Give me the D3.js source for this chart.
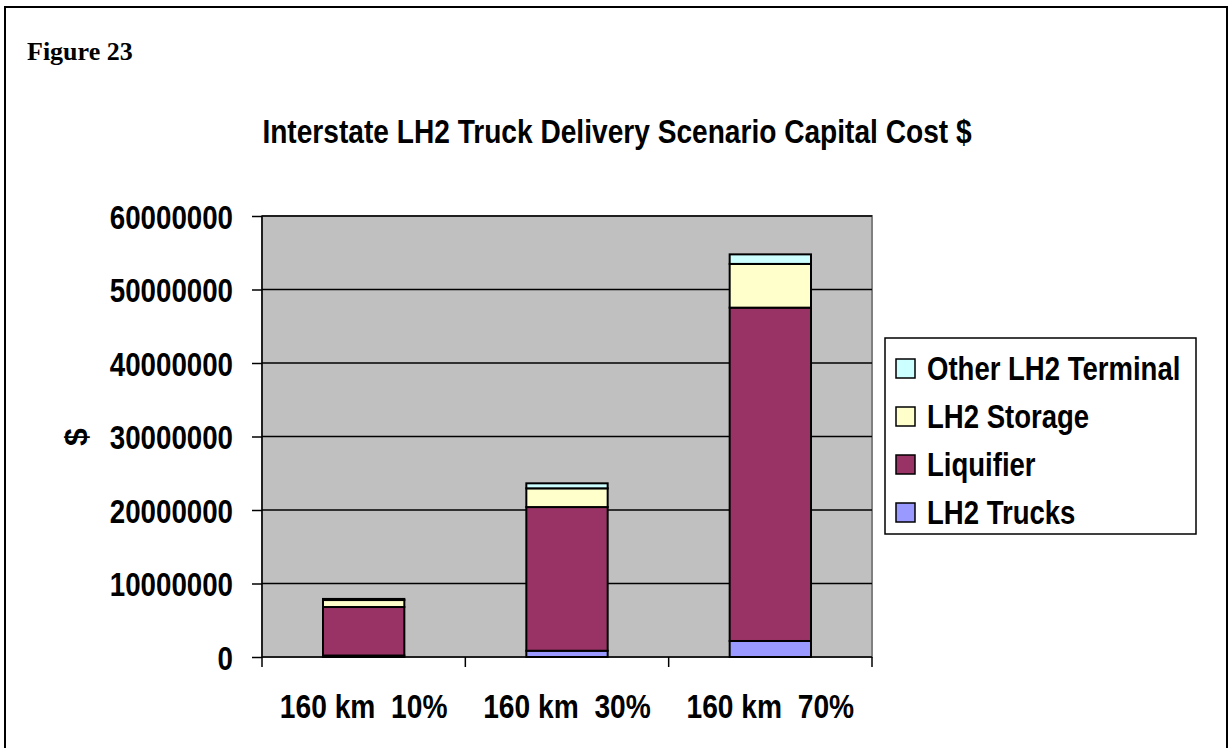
<!DOCTYPE html>
<html>
<head>
<meta charset="utf-8">
<script src="https://cdn.jsdelivr.net/npm/d3@7"></script>
<style>
  body { margin: 0; background: #fff; }
  text { font-family: "Liberation Sans", Arial, sans-serif; font-weight: bold; }
</style>
</head>
<body>
<div id="chart"></div>
<script>
const categories = ["160 km  10%", "160 km  30%", "160 km  70%"];
const seriesNames = ["LH2 Trucks", "Liquifier", "LH2 Storage", "Other LH2 Terminal"];
const lh2Trucks = [200000, 850000, 2180000];
const liquifier = [6600000, 19550000, 45350000];
const lh2Storage = [950000, 2550000, 5950000];
const otherTerminal = [150000, 680000, 1300000];
const yTicks = [0, 10000000, 20000000, 30000000, 40000000, 50000000, 60000000];
const colors = ["#9999FF", "#993366", "#FFFFCC", "#CCFFFF"];

const W = 1230, H = 748;
const margin = {top: 216, right: 358, bottom: 91, left: 262};
const width = W - margin.left - margin.right;
const height = H - margin.top - margin.bottom;

// squeeze text horizontally like the Excel rendering
function narrow(sel, k) {
  sel.each(function () {
    const t = d3.select(this);
    const x0 = +t.attr("x") || 0, y0 = +t.attr("y") || 0;
    t.attr("x", 0).attr("y", 0)
      .attr("transform", "translate(" + x0 + "," + y0 + ") scale(" + k + ",1)");
  });
}

const svg = d3.select("#chart").append("svg")
  .attr("width", W).attr("height", H);

svg.append("rect")
  .attr("x", 5).attr("y", 7).attr("width", 1222).attr("height", 780)
  .attr("fill", "none").attr("stroke", "#000").attr("stroke-width", 2);

svg.append("text")
  .attr("x", 27).attr("y", 60)
  .style("font-family", "'Liberation Serif', 'Times New Roman', serif")
  .style("font-size", "26px")
  .text("Figure 23");

svg.append("text")
  .attr("x", 617).attr("y", 143)
  .attr("text-anchor", "middle")
  .style("font-size", "34px")
  .text("Interstate LH2 Truck Delivery Scenario Capital Cost $")
  .call(narrow, 0.827);

const chart = svg.append("g")
  .attr("transform", "translate(" + margin.left + "," + margin.top + ")");

const x = d3.scaleBand().domain(categories).range([0, width]).paddingInner(0).paddingOuter(0);
const y = d3.scaleLinear().domain([0, 60000000]).range([height, 0]);

chart.append("rect")
  .attr("width", width).attr("height", height)
  .attr("fill", "#C0C0C0").attr("stroke", "#808080").attr("stroke-width", 2);

chart.append("g").selectAll("line")
  .data(yTicks.slice(1))
  .join("line")
  .attr("x1", 0).attr("x2", width)
  .attr("y1", d => y(d)).attr("y2", d => y(d))
  .attr("stroke", "#000").attr("stroke-width", 1.5);

// stacked bars
const rows = categories.map((c, i) => ({
  cat: c,
  "LH2 Trucks": lh2Trucks[i],
  "Liquifier": liquifier[i],
  "LH2 Storage": lh2Storage[i],
  "Other LH2 Terminal": otherTerminal[i]
}));
const stack = d3.stack().keys(seriesNames)(rows);
const barW = x.bandwidth() * 0.4;

chart.append("g").selectAll("g")
  .data(stack)
  .join("g")
  .attr("fill", (d, i) => colors[i])
  .selectAll("rect")
  .data(d => d)
  .join("rect")
  .attr("x", d => x(d.data.cat) + (x.bandwidth() - barW) / 2)
  .attr("width", barW)
  .attr("y", d => y(d[1]))
  .attr("height", d => y(d[0]) - y(d[1]))
  .attr("stroke", "#000")
  .attr("stroke-width", 2);

// y axis
const yAxis = chart.append("g")
  .call(d3.axisLeft(y).tickValues(yTicks).tickSize(10).tickFormat(d3.format("d")));
yAxis.select(".domain").attr("stroke", "#000").attr("stroke-width", 1.5).attr("d", "M0,0V" + height);
yAxis.selectAll(".tick line").attr("stroke", "#000").attr("stroke-width", 1.5);
yAxis.selectAll(".tick text")
  .attr("x", -29).attr("dy", "0.36em")
  .style("font-size", "34px")
  .style("font-family", "'Liberation Sans', Arial, sans-serif")
  .attr("fill", "#000")
  .call(narrow, 0.815);

// x axis
const xAxis = chart.append("g")
  .attr("transform", "translate(0," + height + ")")
  .call(d3.axisBottom(x).tickSize(0).tickFormat(""));
xAxis.select(".domain").attr("stroke", "#000").attr("stroke-width", 1.5).attr("d", "M0,0H" + width);

chart.append("g").selectAll("line")
  .data([0, 1, 2, 3])
  .join("line")
  .attr("x1", d => d * x.step()).attr("x2", d => d * x.step())
  .attr("y1", height).attr("y2", height + 10)
  .attr("stroke", "#000").attr("stroke-width", 1.5);

chart.append("g").selectAll("text")
  .data(categories)
  .join("text")
  .attr("x", d => x(d) + x.bandwidth() / 2)
  .attr("y", height + 61)
  .attr("text-anchor", "middle")
  .style("white-space", "pre")
  .style("font-size", "34px")
  .text(d => d)
  .call(narrow, 0.829);

// y label
svg.append("text")
  .attr("transform", "translate(76,437) rotate(-90)")
  .attr("text-anchor", "middle")
  .attr("dy", "0.35em")
  .style("font-size", "32px")
  .text("$");

// legend
const legend = svg.append("g").attr("transform", "translate(885,338)");
legend.append("rect")
  .attr("width", 311).attr("height", 196)
  .attr("fill", "#fff").attr("stroke", "#000").attr("stroke-width", 1.5);

const legendOrder = seriesNames.slice().reverse();
const item = legend.selectAll("g.item")
  .data(legendOrder)
  .join("g").attr("class", "item")
  .attr("transform", (d, i) => "translate(0," + (30 + i * 48) + ")");

item.append("rect")
  .attr("x", 11).attr("y", -9).attr("width", 19).attr("height", 19)
  .attr("fill", d => colors[seriesNames.indexOf(d)])
  .attr("stroke", "#000").attr("stroke-width", 1.5);

item.append("text")
  .attr("x", 42).attr("y", 12)
  .style("font-size", "34px")
  .text(d => d)
  .call(narrow, 0.81);
</script>
</body>
</html>
